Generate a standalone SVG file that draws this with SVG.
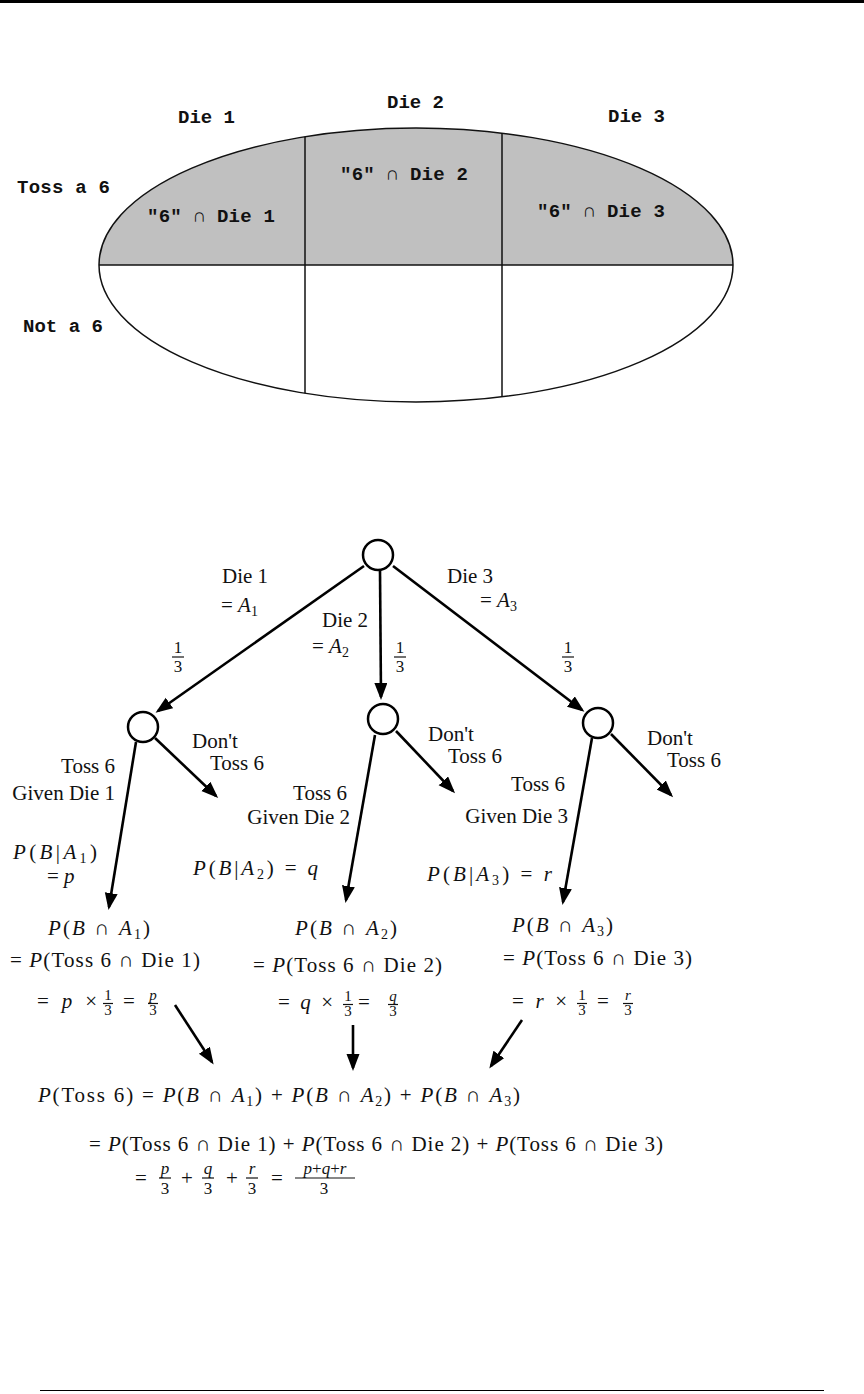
<svg xmlns="http://www.w3.org/2000/svg" width="864" height="1394" viewBox="0 0 864 1394">
<style>
.mono{font-family:"Liberation Mono","DejaVu Sans Mono",monospace;font-weight:bold;font-size:19px;fill:#111}
.s{font-family:"Liberation Serif","DejaVu Serif",serif;font-size:21px;fill:#111}
.i{font-style:italic}
.fr{font-family:"Liberation Serif","DejaVu Serif",serif;font-size:17px;fill:#111;text-anchor:middle}
.fs{font-family:"Liberation Serif","DejaVu Serif",serif;font-size:15px;fill:#111;text-anchor:middle}
.fb{font-family:"Liberation Serif","DejaVu Serif",serif;font-size:17px;fill:#111;text-anchor:middle}
.end{text-anchor:end}
.bar{stroke:#111;stroke-width:1.2}
.edge{stroke:#111;stroke-width:1.5;fill:none}
.arrow{stroke:#000;stroke-width:2.6;fill:none;marker-end:url(#ah)}
.node{fill:#fff;stroke:#000;stroke-width:2.5}
</style>
<defs>
<marker id="ah" markerUnits="userSpaceOnUse" markerWidth="18" markerHeight="14" refX="14" refY="6.5" orient="auto">
<path d="M0,0 L17,6.5 L0,13 Z" fill="#000"/>
</marker>
</defs>
<rect x="0" y="0" width="864" height="3" fill="#000"/>
<line x1="40" y1="1390.5" x2="824" y2="1390.5" stroke="#000" stroke-width="1.2"/>

<g id="venn">
<path d="M99,265 A317,137 0 0 1 733,265 Z" fill="#c0c0c0"/>
<ellipse cx="416" cy="265" rx="317" ry="137" class="edge"/>
<line x1="99" y1="265" x2="733" y2="265" class="edge"/>
<line x1="305" y1="136.7" x2="305" y2="393.3" class="edge"/>
<line x1="502" y1="133.2" x2="502" y2="396.8" class="edge"/>
<text class="mono" x="178" y="123" textLength="57">Die 1</text>
<text class="mono" x="387" y="108" textLength="57">Die 2</text>
<text class="mono" x="608" y="122" textLength="57">Die 3</text>
<text class="mono" x="17" y="193" textLength="93">Toss a 6</text>
<text class="mono" x="23" y="332" textLength="80">Not a 6</text>
<text class="mono" x="147" y="222" textLength="128">"6" ∩ Die 1</text>
<text class="mono" x="340" y="180" textLength="128">"6" ∩ Die 2</text>
<text class="mono" x="537" y="217" textLength="128">"6" ∩ Die 3</text>
</g>

<g id="connectors">
<line class="arrow" x1="364" y1="566" x2="158" y2="711"/>
<line class="arrow" x1="380" y1="571" x2="381" y2="697"/>
<line class="arrow" x1="393" y1="566" x2="582" y2="710"/>
<line class="arrow" x1="136" y1="742" x2="109" y2="907"/>
<line class="arrow" x1="155" y1="738" x2="216" y2="796"/>
<line class="arrow" x1="375" y1="735" x2="346" y2="900"/>
<line class="arrow" x1="396" y1="731" x2="453" y2="791"/>
<line class="arrow" x1="592" y1="738" x2="563" y2="902"/>
<line class="arrow" x1="611" y1="734" x2="671" y2="795"/>
<line class="arrow" x1="175" y1="1005" x2="212" y2="1062"/>
<line class="arrow" x1="353" y1="1025" x2="353" y2="1068"/>
<line class="arrow" x1="522" y1="1020" x2="491" y2="1066"/>
</g>

<g id="root"><circle class="node" cx="378" cy="555" r="15"/></g>
<g id="child1"><circle class="node" cx="143" cy="727" r="15"/></g>
<g id="child2"><circle class="node" cx="383" cy="719" r="15"/></g>
<g id="child3"><circle class="node" cx="598" cy="723" r="15"/></g>

<g id="branch-labels">
<text class="s" x="222" y="583">Die 1</text>
<text class="s" x="221" y="612">= <tspan class="i">A</tspan><tspan font-size="14" dy="4">1</tspan></text>
<text class="s" x="322" y="627">Die 2</text>
<text class="s" x="312" y="653">= <tspan class="i">A</tspan><tspan font-size="14" dy="4">2</tspan></text>
<text class="s" x="447" y="583">Die 3</text>
<text class="s" x="480" y="607">= <tspan class="i">A</tspan><tspan font-size="14" dy="4">3</tspan></text>
<text class="fr" x="178" y="653">1</text><line class="bar" x1="172" y1="657" x2="184" y2="657"/><text class="fr" x="178" y="672">3</text>
<text class="fr" x="400" y="653">1</text><line class="bar" x1="394" y1="657" x2="406" y2="657"/><text class="fr" x="400" y="672">3</text>
<text class="fr" x="568" y="653">1</text><line class="bar" x1="562" y1="657" x2="574" y2="657"/><text class="fr" x="568" y="672">3</text>

<text class="s" x="192" y="748">Don't</text>
<text class="s" x="210" y="770">Toss 6</text>
<text class="s end" x="115" y="773">Toss 6</text>
<text class="s end" x="115" y="800">Given Die 1</text>
<text class="s" x="13" y="859" textLength="84"><tspan class="i">P</tspan>(<tspan class="i">B</tspan>|<tspan class="i">A</tspan><tspan font-size="14" dy="4">1</tspan><tspan dy="-4">)</tspan></text>
<text class="s" x="47" y="883">= <tspan class="i">p</tspan></text>

<text class="s" x="428" y="741">Don't</text>
<text class="s" x="448" y="763">Toss 6</text>
<text class="s end" x="347" y="800">Toss 6</text>
<text class="s end" x="350" y="824">Given Die 2</text>
<text class="s" x="193" y="875" textLength="125"><tspan class="i">P</tspan>(<tspan class="i">B</tspan>|<tspan class="i">A</tspan><tspan font-size="14" dy="4">2</tspan><tspan dy="-4">) = </tspan><tspan class="i">q</tspan></text>

<text class="s" x="647" y="745">Don't</text>
<text class="s" x="667" y="767">Toss 6</text>
<text class="s end" x="565" y="791">Toss 6</text>
<text class="s end" x="568" y="823">Given Die 3</text>
<text class="s" x="427" y="881" textLength="125"><tspan class="i">P</tspan>(<tspan class="i">B</tspan>|<tspan class="i">A</tspan><tspan font-size="14" dy="4">3</tspan><tspan dy="-4">) = </tspan><tspan class="i">r</tspan></text>
</g>

<g id="joint1">
<text class="s" x="48" y="935" textLength="102"><tspan class="i">P</tspan>(<tspan class="i">B</tspan> ∩ <tspan class="i">A</tspan><tspan font-size="14" dy="4">1</tspan><tspan dy="-4">)</tspan></text>
<text class="s" x="10" y="967" textLength="190">= <tspan class="i">P</tspan>(Toss 6 ∩ Die 1)</text>
<text class="s" x="37" y="1008" textLength="60">= <tspan class="i">p</tspan> ×</text>
<text class="fs" x="108" y="1000">1</text><line class="bar" x1="103" y1="1003.5" x2="113" y2="1003.5"/><text class="fs" x="108" y="1015">3</text>
<text class="s" x="123" y="1008">=</text>
<text class="fs i" x="153" y="1000">p</text><line class="bar" x1="148" y1="1003.5" x2="158" y2="1003.5"/><text class="fs" x="153" y="1015">3</text>
</g>

<g id="joint2">
<text class="s" x="295" y="935" textLength="102"><tspan class="i">P</tspan>(<tspan class="i">B</tspan> ∩ <tspan class="i">A</tspan><tspan font-size="14" dy="4">2</tspan><tspan dy="-4">)</tspan></text>
<text class="s" x="253" y="972" textLength="189">= <tspan class="i">P</tspan>(Toss 6 ∩ Die 2)</text>
<text class="s" x="278" y="1009" textLength="55">= <tspan class="i">q</tspan> ×</text>
<text class="fs" x="348" y="1001">1</text><line class="bar" x1="343" y1="1004.5" x2="353" y2="1004.5"/><text class="fs" x="348" y="1016">3</text>
<text class="s" x="358" y="1009">=</text>
<text class="fs i" x="393" y="1001">q</text><line class="bar" x1="388" y1="1004.5" x2="398" y2="1004.5"/><text class="fs" x="393" y="1016">3</text>
</g>

<g id="joint3">
<text class="s" x="512" y="932" textLength="101"><tspan class="i">P</tspan>(<tspan class="i">B</tspan> ∩ <tspan class="i">A</tspan><tspan font-size="14" dy="4">3</tspan><tspan dy="-4">)</tspan></text>
<text class="s" x="503" y="965" textLength="189">= <tspan class="i">P</tspan>(Toss 6 ∩ Die 3)</text>
<text class="s" x="512" y="1008" textLength="55">= <tspan class="i">r</tspan> ×</text>
<text class="fs" x="582" y="1000">1</text><line class="bar" x1="577" y1="1003.5" x2="587" y2="1003.5"/><text class="fs" x="582" y="1015">3</text>
<text class="s" x="597" y="1008">=</text>
<text class="fs i" x="628" y="1000">r</text><line class="bar" x1="623" y1="1003.5" x2="633" y2="1003.5"/><text class="fs" x="628" y="1015">3</text>
</g>

<g id="total">
<text class="s" x="38" y="1102" textLength="482"><tspan class="i">P</tspan>(Toss 6) = <tspan class="i">P</tspan>(<tspan class="i">B</tspan> ∩ <tspan class="i">A</tspan><tspan font-size="14" dy="4">1</tspan><tspan dy="-4">) + </tspan><tspan class="i">P</tspan>(<tspan class="i">B</tspan> ∩ <tspan class="i">A</tspan><tspan font-size="14" dy="4">2</tspan><tspan dy="-4">) + </tspan><tspan class="i">P</tspan>(<tspan class="i">B</tspan> ∩ <tspan class="i">A</tspan><tspan font-size="14" dy="4">3</tspan><tspan dy="-4">)</tspan></text>
<text class="s" x="89" y="1151" textLength="574">= <tspan class="i">P</tspan>(Toss 6 ∩ Die 1) + <tspan class="i">P</tspan>(Toss 6 ∩ Die 2) + <tspan class="i">P</tspan>(Toss 6 ∩ Die 3)</text>
<text class="s" x="135" y="1185">=</text>
<text class="fb i" x="165" y="1174">p</text><line class="bar" x1="159" y1="1178" x2="171" y2="1178"/><text class="fb" x="165" y="1194">3</text>
<text class="s" x="187" y="1185" text-anchor="middle">+</text>
<text class="fb i" x="208" y="1174">q</text><line class="bar" x1="202" y1="1178" x2="214" y2="1178"/><text class="fb" x="208" y="1194">3</text>
<text class="s" x="232" y="1185" text-anchor="middle">+</text>
<text class="fb i" x="252" y="1174">r</text><line class="bar" x1="246" y1="1178" x2="258" y2="1178"/><text class="fb" x="252" y="1194">3</text>
<text class="s" x="277" y="1185" text-anchor="middle">=</text>
<text class="fb" x="325" y="1174"><tspan class="i">p</tspan>+<tspan class="i">q</tspan>+<tspan class="i">r</tspan></text><line class="bar" x1="295" y1="1178" x2="355" y2="1178"/><text class="fb" x="324" y="1194">3</text>
</g>
</svg>
